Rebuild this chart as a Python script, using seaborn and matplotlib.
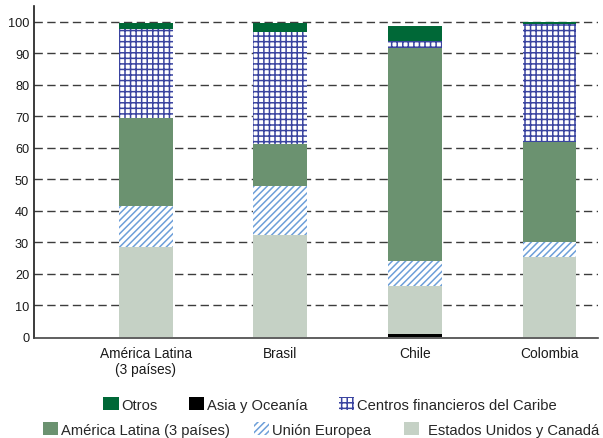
import numpy as np
import pandas as pd
import matplotlib
matplotlib.use("Agg")
import matplotlib.pyplot as plt
from matplotlib.patches import Patch
import seaborn as sns

# Datos (porcentajes)
paises = ["América Latina\n(3 países)", "Brasil", "Chile", "Colombia"]

asia_oceania = [0.0, 0.0, 0.9, 0.0]
eeuu_canada = [28.4, 32.2, 15.1, 25.3]
union_europea = [13.2, 15.7, 8.0, 4.9]
america_latina = [27.9, 13.3, 67.8, 31.7]
caribe = [28.1, 35.4, 2.0, 37.5]
otros = [2.0, 3.1, 4.9, 0.4]

y_ticks = list(range(0, 101, 10))

# orden de apilado, de abajo hacia arriba
capas = [
    ("Asia y Oceanía", asia_oceania, dict(color="black", edgecolor="black", hatch=None)),
    ("Estados Unidos y Canadá", eeuu_canada, dict(color="#c5d1c5", edgecolor="#c5d1c5", hatch=None)),
    ("Unión Europea", union_europea, dict(color="white", edgecolor="#6d9fd9", hatch="/////")),
    ("América Latina (3 países)", america_latina, dict(color="#6b9270", edgecolor="#6b9270", hatch=None)),
    ("Centros financieros del Caribe", caribe, dict(color="white", edgecolor="#3a44a0", hatch="+++")),
    ("Otros", otros, dict(color="#006837", edgecolor="#006837", hatch=None)),
]

sns.set_style("white")
plt.rcParams["font.family"] = ["Liberation Sans", "DejaVu Sans"]
plt.rcParams["hatch.linewidth"] = 1.1

df = pd.DataFrame({"pais": paises})
acum = np.zeros(len(paises))
for nombre, vals, _ in capas:
    acum = acum + np.array(vals)
    df[nombre] = acum

fig = plt.figure(figsize=(6.03, 4.39), dpi=100)
ax = fig.add_axes([0.0564, 0.2267, 0.9353, 0.7573])

# se dibujan los acumulados de arriba hacia abajo, cada capa tapa a la anterior
for nombre, _, estilo in reversed(capas):
    sns.barplot(data=df, x="pais", y=nombre, order=paises, ax=ax,
                color=estilo["color"], edgecolor=estilo["edgecolor"],
                hatch=estilo["hatch"], linewidth=0, width=0.4,
                saturation=1, errorbar=None)

ax.set_xlim(-0.83, 3.36)
ax.set_ylim(-0.5, 105)
ax.set_yticks(y_ticks)
ax.set_xlabel("")
ax.set_ylabel("")

for y in y_ticks[1:]:
    ax.axhline(y, color="#3c3c3c", lw=1.0, ls=(0, (6, 3.2)), zorder=0)

for s in ["top", "right"]:
    ax.spines[s].set_visible(False)
ax.spines["left"].set_color("#1a1a1a")
ax.spines["left"].set_linewidth(1.2)
ax.spines["bottom"].set_color("#444444")
ax.spines["bottom"].set_linewidth(1.2)

ax.tick_params(axis="y", length=0, pad=3.5, labelsize=9.2, labelcolor="#1a1a1a")
ax.tick_params(axis="x", length=0, pad=5.5, labelsize=9.9, labelcolor="#1a1a1a")
for t in ax.get_xticklabels():
    t.set_linespacing(1.15)

def handle(estilo):
    return Patch(facecolor=estilo["color"], edgecolor=estilo["edgecolor"],
                 hatch=estilo["hatch"], linewidth=0)

est = {n: e for n, _, e in capas}
fila1 = ["Otros", "Asia y Oceanía", "Centros financieros del Caribe"]
fila2 = ["América Latina (3 países)", "Unión Europea"]
fila2b = ["Estados Unidos y Canadá"]

leg_kw = dict(frameon=False, fontsize=10.6, handlelength=1.05, handleheight=1.0,
              borderaxespad=0, borderpad=0, loc="center left")
fig.legend([handle(est[n]) for n in fila1], fila1, ncol=3, handletextpad=0.2,
           columnspacing=2.1, bbox_to_anchor=(0.171, 0.077), **leg_kw)
fig.legend([handle(est[n]) for n in fila2], fila2, ncol=2, handletextpad=0.2,
           columnspacing=1.6, bbox_to_anchor=(0.0713, 0.020), **leg_kw)
fig.legend([handle(est[n]) for n in fila2b], fila2b, ncol=1, handletextpad=0.6,
           bbox_to_anchor=(0.670, 0.020), **leg_kw)

fig.savefig("out.png", dpi=100)
